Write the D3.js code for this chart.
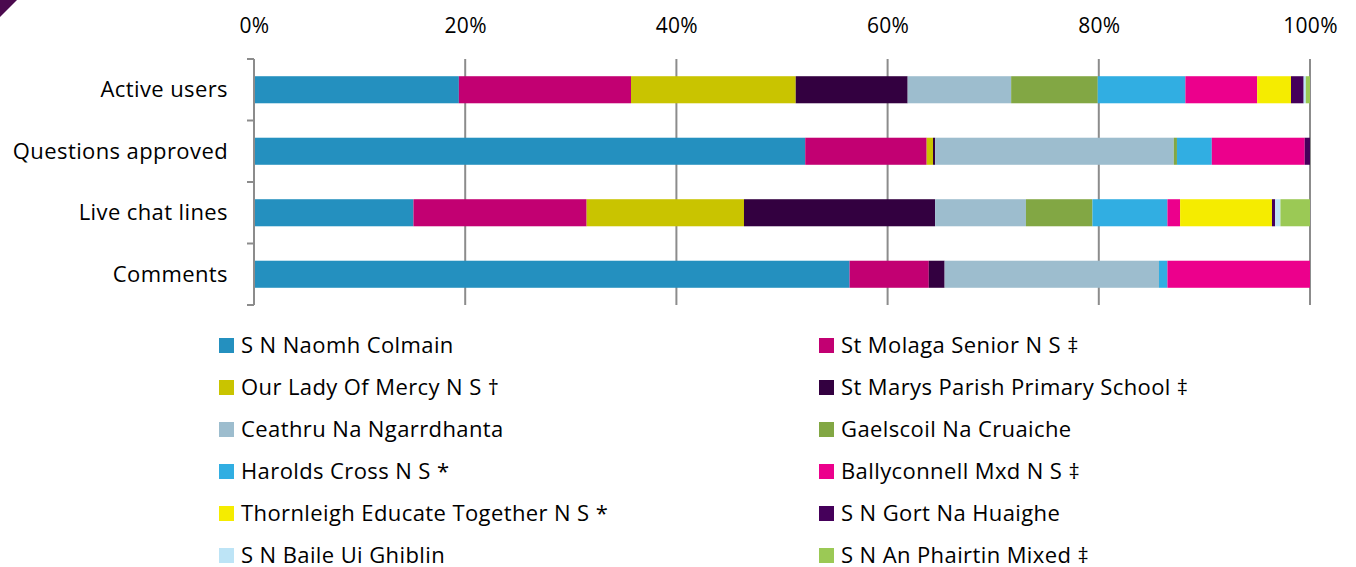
<!DOCTYPE html>
<html>
<head>
<meta charset="utf-8">
<script src="https://d3js.org/d3.v7.min.js"></script>
<style>
  body { margin: 0; background: #fff; }
  svg { display: block; font-family: "Open Sans", sans-serif; }
</style>
</head>
<body>
<script>
// categories, top to bottom
var categories = ["Active users", "Questions approved", "Live chat lines", "Comments"];

var schools = [
  "S N Naomh Colmain", "St Molaga Senior N S \u2021",
  "Our Lady Of Mercy N S \u2020", "St Marys Parish Primary School \u2021",
  "Ceathru Na Ngarrdhanta", "Gaelscoil Na Cruaiche",
  "Harolds Cross N S *", "Ballyconnell Mxd N S \u2021",
  "Thornleigh Educate Together N S *", "S N Gort Na Huaighe",
  "S N Baile Ui Ghiblin", "S N An Phairtin Mixed \u2021"
];

var colors = ["#2490bf", "#c20072", "#c9c400", "#330040", "#9dbdce", "#82a744",
              "#31aee2", "#ec008c", "#f5ec00", "#45005a", "#bde4f6", "#9bc955"];

// share (%) per school, in category order
var activeUsers       = [19.4, 16.3, 15.6, 10.6, 9.8, 8.2, 8.3, 6.8, 3.2, 1.2, 0.2, 0.4];
var questionsApproved = [52.2, 11.5, 0.6, 0.2, 22.6, 0.3, 3.3, 8.8, 0, 0.5, 0, 0];
var liveChatLines     = [15.1, 16.4, 14.9, 18.1, 8.6, 6.3, 7.1, 1.2, 8.7, 0.3, 0.5, 2.8];
var comments          = [56.4, 7.5, 0, 1.5, 20.3, 0, 0.8, 13.5, 0, 0, 0, 0];

var tickValues = [0, 0.2, 0.4, 0.6, 0.8, 1];

var width = 1356, height = 567;
var pLeft = 254, pRight = 1310, pTop = 59, pBottom = 305;

var rows = [activeUsers, questionsApproved, liveChatLines, comments].map(function(vals, i) {
  var o = { cat: categories[i] };
  var total = d3.sum(vals);
  schools.forEach(function(s, j) { o[s] = vals[j] / total; });
  return o;
});

var svg = d3.select("body").append("svg")
  .attr("width", width)
  .attr("height", height);

// corner mark
svg.append("path")
  .attr("d", "M0,0L17,0L0,17Z")
  .attr("fill", "#4b0a4e");

var x = d3.scaleLinear().domain([0, 1]).range([pLeft, pRight]);
var y = d3.scaleBand().domain(categories).range([pTop, pBottom]).paddingInner(0.56).paddingOuter(0.28);

// gridlines
svg.append("g").selectAll("line")
  .data(tickValues.slice(1))
  .enter().append("line")
  .attr("x1", function(d) { return x(d); })
  .attr("x2", function(d) { return x(d); })
  .attr("y1", pTop)
  .attr("y2", pBottom)
  .attr("stroke", "#8c8c8c")
  .attr("stroke-width", 2);

var stack = d3.stack().keys(schools);
var series = stack(rows);

svg.append("g").selectAll("g")
  .data(series)
  .enter().append("g")
  .attr("fill", function(d, i) { return colors[i]; })
  .selectAll("rect")
  .data(function(d) { return d; })
  .enter().append("rect")
  .attr("x", function(d) { return x(d[0]); })
  .attr("width", function(d) { return Math.max(0, x(d[1]) - x(d[0])); })
  .attr("y", function(d) { return y(d.data.cat); })
  .attr("height", y.bandwidth());

// top axis labels
var xAxis = svg.append("g")
  .attr("transform", "translate(0," + pTop + ")")
  .call(d3.axisTop(x).tickValues(tickValues).tickFormat(d3.format(".0%")).tickSize(0).tickPadding(26));
xAxis.select(".domain").remove();
xAxis.selectAll("text")
  .attr("font-size", 21)
  .attr("letter-spacing", "0.3px")
  .attr("font-family", "'Open Sans', sans-serif")
  .attr("fill", "#000");

// left axis with tick marks between categories
var step = (pBottom - pTop) / categories.length;
var ga = svg.append("g");
ga.append("line")
  .attr("x1", pLeft).attr("x2", pLeft)
  .attr("y1", pTop).attr("y2", pBottom)
  .attr("stroke", "#8c8c8c").attr("stroke-width", 2);
ga.selectAll("line.tk")
  .data(d3.range(categories.length + 1))
  .enter().append("line")
  .attr("class", "tk")
  .attr("x1", pLeft - 7).attr("x2", pLeft)
  .attr("y1", function(d) { return pTop + d * step; })
  .attr("y2", function(d) { return pTop + d * step; })
  .attr("stroke", "#8c8c8c").attr("stroke-width", 2);

ga.selectAll("text")
  .data(categories)
  .enter().append("text")
  .attr("x", 228)
  .attr("y", function(d) { return y(d) + y.bandwidth() / 2; })
  .attr("dy", "0.35em")
  .attr("text-anchor", "end")
  .attr("font-size", 22)
  .attr("letter-spacing", "0.4px")
  .text(function(d) { return d; });

// legend
var legend = svg.append("g");
var items = legend.selectAll("g")
  .data(schools)
  .enter().append("g")
  .attr("transform", function(d, i) {
    return "translate(" + (i % 2 ? 819 : 219) + "," + (345 + Math.floor(i / 2) * 42) + ")";
  });
items.append("rect")
  .attr("x", 0).attr("y", -7)
  .attr("width", 15).attr("height", 15)
  .attr("fill", function(d, i) { return colors[i]; });
items.append("text")
  .attr("x", 22)
  .attr("dy", "0.35em")
  .attr("font-size", 22)
  .attr("letter-spacing", "0.4px")
  .text(function(d) { return d; });
</script>
</body>
</html>
